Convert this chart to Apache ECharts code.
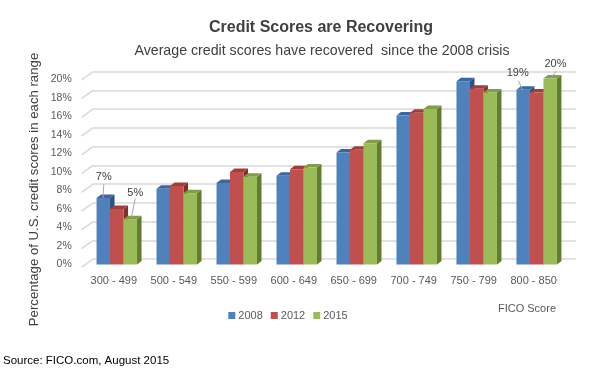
<!DOCTYPE html>
<html><head><meta charset="utf-8">
<script src="https://cdn.jsdelivr.net/npm/echarts@6/dist/echarts.min.js"></script>
<style>html,body{margin:0;padding:0;background:#fff}#c{width:605px;height:372px}</style>
</head><body><div id="c"></div>
<script>
// ---- data ----
var categories = ['300 - 499','500 - 549','550 - 599','600 - 649','650 - 699','700 - 749','750 - 799','800 - 850'];
var years = ['2008','2012','2015'];
var values2008 = [7.2, 8.2, 8.8, 9.6, 12.1, 16.1, 19.8, 18.9];
var values2012 = [6.0, 8.5, 10.0, 10.3, 12.4, 16.4, 19.0, 18.6];
var values2015 = [4.9, 7.7, 9.5, 10.5, 13.1, 16.8, 18.6, 20.1];
var labelled2008 = [true, false, false, false, false, false, false, true];
var labelled2012 = [false, false, false, false, false, false, false, false];
var labelled2015 = [true, false, false, false, false, false, false, true];
var yTicks = [0, 2, 4, 6, 8, 10, 12, 14, 16, 18, 20];

// ---- style ----
var FONT = 'Liberation Sans';
var FRONT = ['#4F81BD', '#C0504D', '#9BBB59'];
var TOP = ['#3B66A0', '#A03E3B', '#7F9E45'];
var SIDE = ['#2E5082', '#842E2C', '#627C31'];
var DX = 4.5, DY = -3.5, SHIFT = 3;
// label placement relative to bar top-centre: [textDx, textDy, lineStartDx, lineStartDy, lineEndDx, lineEndDy]
var LABEL_LAYOUT = {
  '0-0': [0.5, -20.5, 0.5, -13.5, -0.3, 0],
  '0-7': [-5.5, -17, -4.7, -9, -0.7, 0.5],
  '2-0': [5, -26.5, 5, -21, 1, -1],
  '2-7': [5.3, -14.3, 6, -7.5, 0.7, -0.5]
};

var seriesVals = [values2008, values2012, values2015];
var seriesFlags = [labelled2008, labelled2012, labelled2015];

function makeRenderer(si) {
  return function (params, api) {
    var idx = params.dataIndex;
    var v = api.value(1);
    var p = api.coord([api.value(0), v]);
    var b = api.coord([api.value(0), 0]);
    var bw = api.size([1, 0])[0] * 0.225;
    var x = p[0] + SHIFT + (si - 1.5) * bw;
    var yT = p[1], yB = b[1];
    var children = [
      {type: 'polygon', shape: {points: [[x + bw, yT], [x + bw + DX, yT + DY], [x + bw + DX, yB + DY], [x + bw, yB]]}, style: {fill: SIDE[si]}},
      {type: 'polygon', shape: {points: [[x, yT], [x + DX, yT + DY], [x + bw + DX, yT + DY], [x + bw, yT]]}, style: {fill: TOP[si]}},
      {type: 'rect', shape: {x: x, y: yT, width: bw, height: yB - yT}, style: {fill: FRONT[si]}}
    ];
    if (seriesFlags[si][idx]) {
      var L = LABEL_LAYOUT[si + '-' + idx];
      var cx = x + bw / 2;
      children.push({type: 'line', shape: {x1: cx + L[2], y1: yT + L[3], x2: cx + L[4], y2: yT + L[5]}, style: {stroke: '#A6A6A6', lineWidth: 1}, z2: 10});
      children.push({type: 'text', x: cx + L[0], y: yT + L[1], style: {text: Math.round(v) + '%', align: 'center', verticalAlign: 'middle', fontSize: 11, fontFamily: FONT, fill: '#404040'}, z2: 10});
    }
    return {type: 'group', children: children};
  };
}

var series = years.map(function (y, si) {
  return {
    name: y, type: 'custom', xAxisIndex: 0, yAxisIndex: 0,
    itemStyle: {color: FRONT[si]},
    renderItem: makeRenderer(si),
    data: seriesVals[si].map(function (v, i) { return [i, v]; }),
    clip: false, z: 3
  };
});
series.push({
  type: 'custom', xAxisIndex: 1, yAxisIndex: 1, silent: true, z: 1,
  renderItem: function (params, api) {
    var c = api.coord([0, api.value(1)]);
    return {type: 'line', shape: {x1: c[0] - 11.5, y1: c[1] + 8.3, x2: c[0], y2: c[1]}, style: {stroke: '#D9D9D9', lineWidth: 1.5}};
  },
  data: yTicks.map(function (t) { return [0, t]; })
});

var chart = echarts.init(document.getElementById('c'), null, {renderer: 'canvas'});
chart.setOption({
  animation: false,
  backgroundColor: '#fff',
  grid: [
    {left: 83.8, right: 41.3, top: 79.5, bottom: 107.5},
    {left: 93, right: 29, top: 71.7, bottom: 113}
  ],
  xAxis: [
    {type: 'category', gridIndex: 0, data: categories, axisLine: {show: false}, axisTick: {show: false},
     axisLabel: {interval: 0, fontSize: 11, color: '#595959', fontFamily: FONT, margin: 11}},
    {type: 'value', gridIndex: 1, min: 0, max: 1, show: false}
  ],
  yAxis: [
    {type: 'value', gridIndex: 0, min: 0, max: 20, interval: 2, splitLine: {show: false},
     axisLine: {show: false}, axisTick: {show: false},
     axisLabel: {formatter: '{value}%', fontSize: 10.5, color: '#595959', fontFamily: FONT, margin: 12, padding: [3, 0, 0, 0]}},
    {type: 'value', gridIndex: 1, min: 0, max: 20, interval: 2, axisLabel: {show: false},
     axisLine: {show: false}, axisTick: {show: false},
     splitLine: {show: true, lineStyle: {color: '#D9D9D9', width: 1.5}}}
  ],
  legend: {
    data: years.map(function (y, i) { return {name: y, icon: 'rect', itemStyle: {color: FRONT[i]}}; }),
    left: 228.3, top: 310, padding: 0, itemWidth: 7, itemHeight: 7, itemGap: 8,
    textStyle: {fontSize: 11, color: '#595959', fontFamily: FONT, padding: [0, 0, 0, -2]}
  },
  graphic: [
    {type: 'text', x: 321, y: 28, style: {text: 'Credit Scores are Recovering', align: 'center', verticalAlign: 'middle', fontSize: 16, fontWeight: 'bold', fontFamily: FONT, fill: '#404040'}},
    {type: 'text', x: 322, y: 51.5, style: {text: 'Average credit scores have recovered  since the 2008 crisis', align: 'center', verticalAlign: 'middle', fontSize: 14.2, fontFamily: FONT, fill: '#404040'}},
    {type: 'text', x: 34.5, y: 189.5, rotation: Math.PI / 2, style: {text: 'Percentage of U.S. credit scores in each range', align: 'center', verticalAlign: 'middle', fontSize: 13.2, fontFamily: FONT, fill: '#404040'}},
    {type: 'text', x: 556, y: 309, style: {text: 'FICO Score', align: 'right', verticalAlign: 'middle', fontSize: 11, fontFamily: FONT, fill: '#595959'}},
    {type: 'text', x: 3, y: 361, style: {text: 'Source: FICO.com, August 2015', align: 'left', verticalAlign: 'middle', fontSize: 11.5, fontFamily: FONT, fill: '#000'}}
  ],
  series: series
});
</script></body></html>
